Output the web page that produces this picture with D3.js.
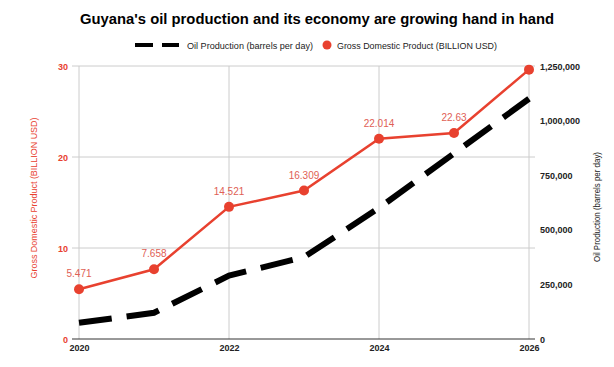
<!DOCTYPE html>
<html><head><meta charset="utf-8">
<script src="https://cdn.jsdelivr.net/npm/d3@7"></script>
<style>body{margin:0;background:#fff}svg{display:block;font-family:"Liberation Sans",Arial,sans-serif}</style>
</head><body><svg id="c" width="614" height="367"></svg>
<script>
const years = [2020, 2021, 2022, 2023, 2024, 2025, 2026];
const gdp = [5.471, 7.658, 14.521, 16.309, 22.014, 22.63, 29.6];
const gdpLabels = ["5.471", "7.658", "14.521", "16.309", "22.014", "22.63", ""];
const oil = [74000, 120000, 290000, 375000, 600000, 850000, 1100000];
const leftTicks = [0, 10, 20, 30];
const rightTicks = [0, 250000, 500000, 750000, 1000000, 1250000];
const xTicks = [2020, 2022, 2024, 2026];

const svg = d3.select("#c");
const L = 79, R = 529, T = 66, B = 339;
const x = d3.scaleLinear().domain([2020, 2026]).range([L, R]);
const yL = d3.scaleLinear().domain([0, 30]).range([B, T]);
const yR = d3.scaleLinear().domain([0, 1250000]).range([B, T]);
const red = "#e8412f";

svg.append("text").attr("x", 317).attr("y", 24).attr("text-anchor", "middle")
  .attr("font-size", 15).attr("font-weight", "bold").attr("fill", "#000")
  .attr("textLength", 474).attr("lengthAdjust", "spacingAndGlyphs")
  .text("Guyana's oil production and its economy are growing hand in hand");

// legend
const lg = svg.append("g");
lg.append("line").attr("x1", 135).attr("x2", 179).attr("y1", 45).attr("y2", 45)
  .attr("stroke", "#000").attr("stroke-width", 4).attr("stroke-dasharray", "18,9");
lg.append("text").attr("x", 187).attr("y", 48.5).attr("font-size", 9).attr("fill", "#222")
  .attr("textLength", 126).attr("lengthAdjust", "spacingAndGlyphs")
  .text("Oil Production (barrels per day)");
lg.append("circle").attr("cx", 327).attr("cy", 45).attr("r", 4.5).attr("fill", red);
lg.append("text").attr("x", 337).attr("y", 48.5).attr("font-size", 9).attr("fill", "#222")
  .attr("textLength", 160).attr("lengthAdjust", "spacingAndGlyphs")
  .text("Gross Domestic Product (BILLION USD)");

// gridlines
svg.append("g").selectAll("line").data(leftTicks.slice(1)).join("line")
  .attr("x1", L - 7).attr("x2", R + 6).attr("y1", d => yL(d)).attr("y2", d => yL(d))
  .attr("stroke", "#cccccc").attr("stroke-width", 1);
svg.append("g").selectAll("line").data(xTicks).join("line")
  .attr("x1", d => x(d)).attr("x2", d => x(d)).attr("y1", T).attr("y2", B)
  .attr("stroke", "#cccccc").attr("stroke-width", 1);
// baseline
svg.append("line").attr("x1", L - 7).attr("x2", R + 6).attr("y1", B).attr("y2", B)
  .attr("stroke", "#333").attr("stroke-width", 1);

// left axis
const la = svg.append("g").attr("transform", `translate(${L - 11},0)`)
  .call(d3.axisLeft(yL).tickValues(leftTicks).tickSize(0).tickPadding(0));
la.select(".domain").remove();
la.selectAll("text").attr("fill", red).attr("font-size", 9).attr("font-family", "Liberation Sans, Arial").attr("font-weight", "bold").attr("dy", "0.35em");

// right axis
const ra = svg.append("g").attr("transform", `translate(${R + 11},0)`)
  .call(d3.axisRight(yR).tickValues(rightTicks).tickSize(0).tickPadding(0).tickFormat(d3.format(",")));
ra.select(".domain").remove();
ra.selectAll("text").attr("fill", "#222").attr("font-size", 9).attr("font-family", "Liberation Sans, Arial").attr("font-weight", "bold").attr("dy", "0.35em");

// x axis
const xa = svg.append("g").attr("transform", `translate(0,${B + 4})`)
  .call(d3.axisBottom(x).tickValues(xTicks).tickSize(0).tickPadding(0).tickFormat(d3.format("d")));
xa.select(".domain").remove();
xa.selectAll("text").attr("fill", "#222").attr("font-size", 9).attr("font-family", "Liberation Sans, Arial").attr("font-weight", "bold").attr("dy", "0.9em");

// axis titles
svg.append("text").attr("transform", `translate(37,198) rotate(-90)`)
  .attr("text-anchor", "middle").attr("font-size", 9).attr("fill", red)
  .attr("textLength", 161).attr("lengthAdjust", "spacingAndGlyphs")
  .text("Gross Domestic Product (BILLION USD)");
svg.append("text").attr("transform", `translate(600,207) rotate(-90)`)
  .attr("text-anchor", "middle").attr("font-size", 9).attr("fill", "#222")
  .attr("textLength", 110).attr("lengthAdjust", "spacingAndGlyphs")
  .text("Oil Production (barrels per day)");

// oil line
svg.append("path").datum(years.map((y, i) => [y, oil[i]]))
  .attr("d", d3.line().x(d => x(d[0])).y(d => yR(d[1])))
  .attr("fill", "none").attr("stroke", "#000").attr("stroke-width", 6)
  .attr("stroke-dasharray", "33,15");

// gdp line
svg.append("path").datum(years.map((y, i) => [y, gdp[i]]))
  .attr("d", d3.line().x(d => x(d[0])).y(d => yL(d[1])))
  .attr("fill", "none").attr("stroke", red).attr("stroke-width", 2.5);
svg.append("g").selectAll("circle").data(years).join("circle")
  .attr("cx", d => x(d)).attr("cy", (d, i) => yL(gdp[i])).attr("r", 5).attr("fill", red);
svg.append("g").selectAll("text").data(years).join("text")
  .attr("x", d => x(d)).attr("y", (d, i) => yL(gdp[i]) - 12)
  .attr("text-anchor", "middle").attr("font-size", 10).attr("fill", "#e06055")
  .text((d, i) => gdpLabels[i]);
</script></body></html>
